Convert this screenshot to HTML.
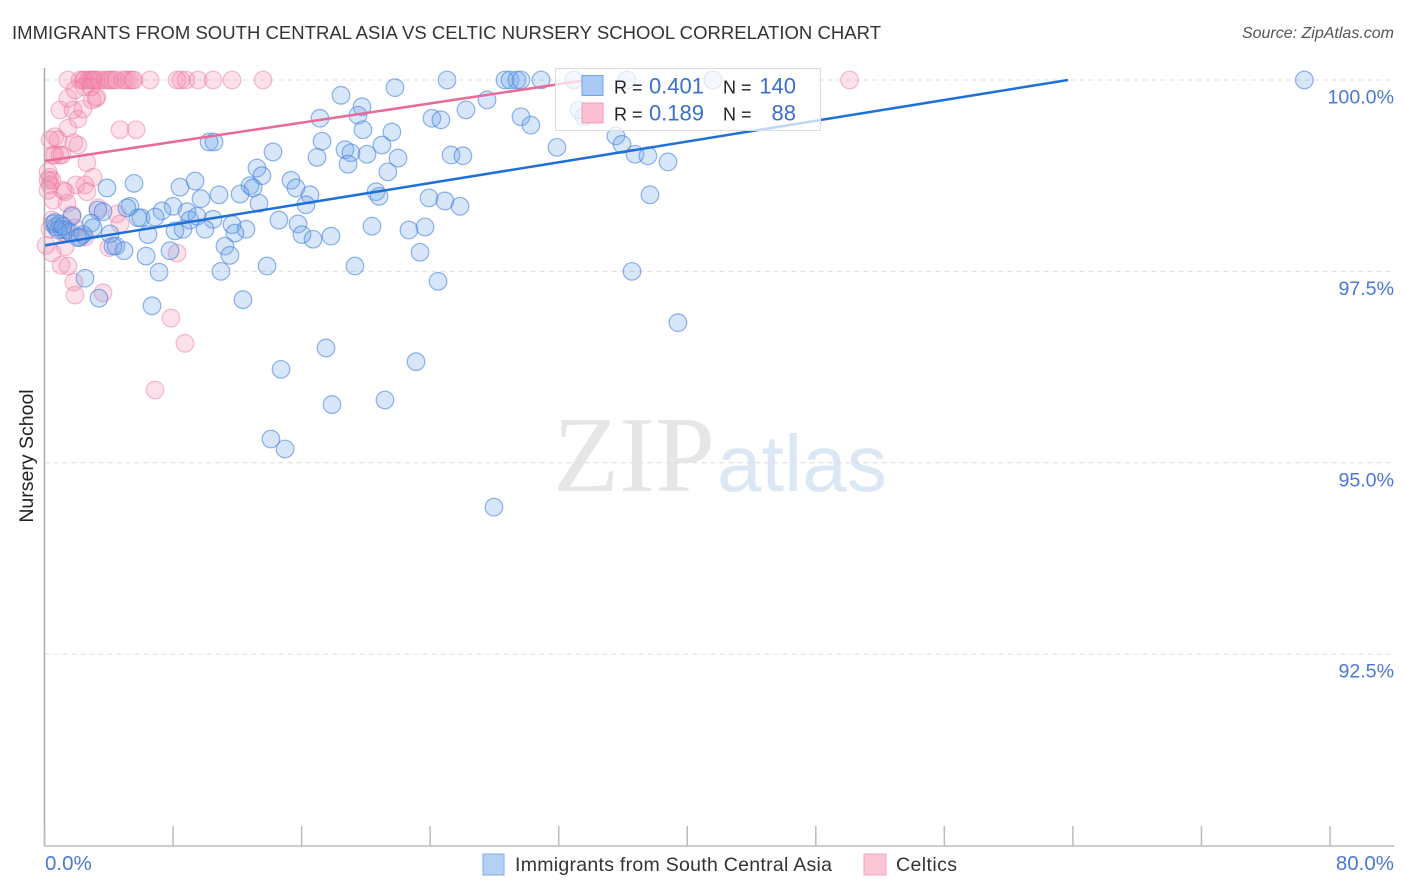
<!DOCTYPE html>
<html lang="en">
<head>
<meta charset="utf-8">
<title>Immigrants from South Central Asia vs Celtic Nursery School Correlation Chart</title>
<style>
html,body{margin:0;padding:0;background:#fff;width:1406px;height:892px;overflow:hidden}
svg{display:block;font-family:"Liberation Sans",sans-serif}
</style>
</head>
<body>
<svg id="chart" xmlns="http://www.w3.org/2000/svg" width="1406" height="892" viewBox="0 0 1406 892">
  <text x="12" y="39" font-size="18.5" fill="#333" textLength="869">IMMIGRANTS FROM SOUTH CENTRAL ASIA VS CELTIC NURSERY SCHOOL CORRELATION CHART</text>
  <text x="1394" y="38" font-size="16" font-style="italic" fill="#555" text-anchor="end">Source: ZipAtlas.com</text>
  <g>
    <text x="553" y="491" font-family="'Liberation Serif',serif" font-size="108" fill="#e6e6e6" textLength="162">ZIP</text>
    <text x="717" y="491" font-size="80" fill="#dce7f6" textLength="170">atlas</text>
  </g>
  <g id="grid"></g>
  <g id="pinkPoints"></g>
  <g id="bluePoints"></g>
  <g id="trends"></g>
  <g id="axes"></g>
  <text transform="translate(33,456) rotate(-90)" font-size="19.5" fill="#222" text-anchor="middle">Nursery School</text>
  <g>
    <rect x="555.5" y="68.5" width="265" height="62" fill="#fff" fill-opacity="0.72" stroke="#dcdcdc" stroke-width="1"></rect>
    <rect x="582" y="75.5" width="21" height="20" fill="#a9caf3" stroke="#6fa4e6" stroke-width="1"></rect>
    <rect x="582" y="103" width="21" height="20" fill="#fac0d2" stroke="#f09ab5" stroke-width="1"></rect>
    <g id="statsText"></g>
  </g>
  <g>
    <rect x="483" y="854" width="21" height="21" fill="#b4d0f5" stroke="#7eaee8" stroke-width="1"></rect>
    <text x="515" y="871" font-size="19.5" fill="#333" textLength="317">Immigrants from South Central Asia</text>
    <rect x="864" y="854" width="22" height="21" fill="#fcc6d7" stroke="#f2a6bf" stroke-width="1"></rect>
    <text x="896" y="871" font-size="19.5" fill="#333" textLength="61">Celtics</text>
  </g>
</svg>
<script>
const xTickValues = [0, 8, 16, 24, 32, 40, 48, 56, 64, 72, 80];
const xEndLabels = ["0.0%", "80.0%"];
const yTickValues = [100, 97.5, 95, 92.5];
const yTickLabels = ["100.0%", "97.5%", "95.0%", "92.5%"];

const blueShare = [78.4,25.05,28.66,28.97,29.4,29.65,30.9,32.95,36.25,41.6,
18.45,21.81,19.76,27.54,26.23,19.51,17.14,24.11,24.67,29.65,30.27,33.57,33.26,19.82,21.62,17.27,10.24,10.55,35.56,35.94,
31.89,18.7,19.07,21,20.07,22,16.96,14.22,25.3,26.04,36.75,37.55,38.8,13.22,18.89,21.37,13.53,15.34,5.57,3.89,
9.37,8.43,12.79,12.98,15.65,12.17,10.86,16.52,20.63,20.82,23.93,24.92,25.86,37.68,9.74,8,13.35,16.27,5.32,5.13,
3.33,3.64,7.31,8.87,6,5.82,6.88,9.05,9.49,10.49,14.59,15.78,20.38,22.68,23.68,11.67,12.54,11.85,9.99,8.62,
8.12,6.44,2.89,3.02,1.71,4.08,16.02,16.71,17.83,11.23,11.54,7.81,6.32,4.45,4.95,4.26,23.37,13.85,19.32,10.98,
7.13,36.56,2.52,24.49,3.39,12.35,6.69,39.42,17.52,14.72,23.12,21.19,17.89,14.09,14.97,27.97,
0.53,0.72,0.96,1.09,1.34,1.59,0.84,2.21,2.4,2.08,0.65,1.15];
const blueSchool = [100,100,100,100,100,100,100,100,100,100,
99.8,99.9,99.65,99.74,99.61,99.54,99.5,99.5,99.48,99.52,99.41,99.52,99.61,99.35,99.32,99.2,99.19,99.19,99.27,99.16,
99.12,99.09,99.05,99.15,99.03,98.98,98.99,99.06,99.02,99.01,99.03,99.01,98.93,98.85,98.9,98.8,98.75,98.69,98.65,98.59,
98.68,98.6,98.62,98.59,98.59,98.51,98.5,98.5,98.54,98.48,98.46,98.42,98.35,98.5,98.45,98.35,98.39,98.37,98.35,98.33,
98.3,98.28,98.29,98.28,98.2,98.2,98.21,98.17,98.22,98.18,98.17,98.12,98.09,98.04,98.08,98.11,98.05,98,98.05,98.05,
98.03,97.98,98.13,98.07,98.22,97.99,97.98,97.92,97.96,97.83,97.71,97.77,97.7,97.83,97.77,97.83,97.75,97.57,97.57,97.5,
97.49,97.5,97.41,97.37,97.15,97.13,97.05,96.83,96.5,96.22,96.32,95.82,95.76,95.31,95.18,94.42,
98.12,98.08,98.12,98.05,98.04,98.01,98.04,97.95,97.98,97.94,98.14,98.09];

const pinkShare = [1.46,2.21,2.4,2.52,2.71,2.83,2.96,3.08,3.2,3.45,3.76,3.95,4.08,4.26,4.45,4.88,5.07,5.26,5.45,5.57,6.57,8.25,8.49,8.81,9.55,10.49,11.67,13.6,50.1,
0.96,1.77,2.08,2.4,1.46,3.2,3.26,1.46,4.7,5.7,0.65,0.84,1.83,2.08,0.65,1.09,2.64,0.34,0.47,3.02,1.96,2.52,2.64,1.15,1.28,0.53,1.4,3.33,4.51,1.71,0.47,
1.28,0.47,1.03,1.46,1.83,1.9,3.64,4.01,8.25,7.87,8.74,6.88,4.7,2.52,1.21,1.9,0.34,2.46,2.89,1.9,2.96,0.34,0.53,0.34,0.22,0.22,0.22,0.96,0.1];
const pinkSchool = [100,100,100,100,100,100,100,100,100,100,100,100,100,100,100,100,100,100,100,100,100,100,100,100,100,100,100,100,100,
99.61,99.61,99.49,99.62,99.76,99.76,99.78,99.37,99.35,99.35,99.26,99.22,99.18,99.15,99.02,99.02,98.92,98.73,98.69,98.73,98.63,98.63,98.54,98.56,98.54,98.43,98.39,98.33,98.25,98.24,98.17,
97.82,97.74,97.58,97.57,97.36,97.19,97.22,97.81,97.74,96.89,96.56,95.95,98.12,97.95,98.01,98.07,98.05,99.91,99.91,99.87,99.74,99.22,99.02,98.63,98.8,98.69,98.56,99.02,97.84];

const blueTrendShare = [0, 63.7];
const blueTrendSchool = [97.84, 100];
const pinkTrendShare = [0, 33.76];
const pinkTrendSchool = [98.94, 100];

const statSeries = ["immigrants", "celtics"];
const statR = ["0.401", "0.189"];
const statN = ["140", "88"];

const SVG_NS = "http://www.w3.org/2000/svg";
function xScale(v) { return 44.5 + v * (1330 - 44.5) / 80; }
function yScale(v) { return 80 + (100 - v) * 76.55; }
function make(tag, attrs, parent) {
  const el = document.createElementNS(SVG_NS, tag);
  for (const k in attrs) el.setAttribute(k, attrs[k]);
  parent.appendChild(el);
  return el;
}

const gridG = document.getElementById("grid");
const axesG = document.getElementById("axes");
yTickValues.forEach(function (v, i) {
  const gl = make("line", {x1: 44.5, x2: 1394, y1: yScale(v), y2: yScale(v), stroke: "#e0dcdc", "stroke-width": 1, "stroke-dasharray": "5 4"}, gridG);
  
  
  const lb = make("text", {x: 1394, y: yScale(v) + 23.5, "font-size": 19.6, fill: "#4a78d6", "text-anchor": "end"}, axesG);
  lb.textContent = yTickLabels[i];
  
  
});

const yAxis = make("line", {x1: 44.5, x2: 44.5, y1: 68, y2: 846, stroke: "#aaa", "stroke-width": 1.5}, axesG);


const xAxis = make("line", {x1: 44, x2: 1394, y1: 846, y2: 846, stroke: "#bbb", "stroke-width": 1.5}, axesG);


xTickValues.forEach(function (v) {
  const t = make("line", {x1: xScale(v), x2: xScale(v), y1: 826, y2: 846, stroke: "#bbb", "stroke-width": 1.5}, axesG);
  
  
});
const xMin = make("text", {x: 45, y: 870, "font-size": 20.5, fill: "#4a78d6"}, axesG);
xMin.textContent = xEndLabels[0];


const xMax = make("text", {x: 1394, y: 870, "font-size": 20.5, fill: "#4a78d6", "text-anchor": "end"}, axesG);
xMax.textContent = xEndLabels[1];



const pinkG = document.getElementById("pinkPoints");
pinkShare.forEach(function (v, i) {
  const c = make("circle", {cx: xScale(v), cy: yScale(pinkSchool[i]), r: 8.8, fill: "rgba(243,140,172,0.26)", stroke: "rgba(236,110,150,0.45)", "stroke-width": 1.2}, pinkG);
  
  
});
const blueG = document.getElementById("bluePoints");
blueShare.forEach(function (v, i) {
  const c = make("circle", {cx: xScale(v), cy: yScale(blueSchool[i]), r: 8.8, fill: "rgba(110,165,235,0.28)", stroke: "rgba(70,130,220,0.6)", "stroke-width": 1.2}, blueG);
  
  
});

const trendG = document.getElementById("trends");
const pinkTrend = make("line", {x1: xScale(pinkTrendShare[0]), y1: yScale(pinkTrendSchool[0]), x2: xScale(pinkTrendShare[1]), y2: yScale(pinkTrendSchool[1]), stroke: "#ea6a97", "stroke-width": 2.5}, trendG);


const blueTrend = make("line", {x1: xScale(blueTrendShare[0]), y1: yScale(blueTrendSchool[0]), x2: xScale(blueTrendShare[1]), y2: yScale(blueTrendSchool[1]), stroke: "#1f6fd8", "stroke-width": 2.5}, trendG);



const statsG = document.getElementById("statsText");
statSeries.forEach(function (s, i) {
  const base = 93.5 + i * 27;
  const r1 = make("text", {x: 614, y: base, "font-size": 18, fill: "#222"}, statsG);
  r1.textContent = "R =";
  
  
  const r2 = make("text", {x: 704, y: base, "font-size": 22, fill: "#3a6fd0", "text-anchor": "end"}, statsG);
  r2.textContent = statR[i];
  
  
  const n1 = make("text", {x: 723, y: base, "font-size": 18, fill: "#222"}, statsG);
  n1.textContent = "N =";
  
  
  const n2 = make("text", {x: 796, y: base, "font-size": 22, fill: "#3a6fd0", "text-anchor": "end"}, statsG);
  n2.textContent = statN[i];
  
  
});
</script>
</body>
</html>
